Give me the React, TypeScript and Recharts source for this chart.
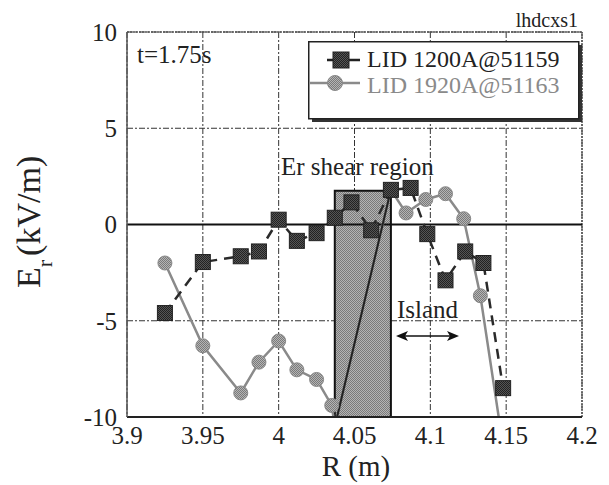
import React from "react"
import { LineChart, Line, XAxis, YAxis, CartesianGrid, ReferenceArea, ReferenceLine, Legend } from "recharts"

// LID 1200A @ 51159 (squares, dashed)
const r1200 = [3.925, 3.95, 3.975, 3.987, 4.0, 4.012, 4.025, 4.037, 4.048, 4.061, 4.074, 4.087, 4.098, 4.11, 4.123, 4.135, 4.148]
const er1200 = [-4.6, -1.95, -1.65, -1.4, 0.25, -0.85, -0.45, 0.35, 1.15, -0.3, 1.8, 1.9, -0.5, -2.9, -1.4, -2.0, -8.5]

// LID 1920A @ 51163 (circles, solid)
const r1920 = [3.925, 3.95, 3.975, 3.987, 4.0, 4.012, 4.025, 4.035, 4.037, 4.074, 4.084, 4.097, 4.11, 4.122, 4.133, 4.147]
const er1920 = [-2.0, -6.3, -8.75, -7.15, -6.05, -7.55, -8.05, -9.4, -10.5, 1.8, 0.6, 1.3, 1.6, 0.3, -3.7, -11]

// part of the 1920A trace that shows dark over the shaded box
const shearR = [4.0385, 4.074]
const shearEr = [-10, 1.8]

// Er shear region box
const shearBox = { r1: 4.037, r2: 4.074, top: 1.75, bottom: -10 }

const xTicks = [3.9, 3.95, 4, 4.05, 4.1, 4.15, 4.2]
const yTicks = [-10, -5, 0, 5, 10]

const data1200 = r1200.map((r, i) => ({ r, er: er1200[i] }))
const data1920 = r1920.map((r, i) => ({ r, er: er1920[i] }))
const shearData = shearR.map((r, i) => ({ r, er: shearEr[i] }))

const FONT = "Liberation Serif, Tinos, Times New Roman, DejaVu Serif, serif"

const SquareDot = (props: any) => {
  const { cx, cy, index } = props
  if (cx == null || cy == null || cy > 420) return <g key={`s-${index}`} />
  return <rect key={`s-${index}`} x={cx - 7.5} y={cy - 7.5} width={15} height={15} fill="url(#darkHatch)" stroke="#222" strokeWidth={1} />
}

const CircleDot = (props: any) => {
  const { cx, cy, index } = props
  if (cx == null || cy == null || cy > 420) return <g key={`c-${index}`} />
  return <circle key={`c-${index}`} cx={cx} cy={cy} r={7} fill="url(#grayHatch)" stroke="#888" strokeWidth={1} />
}

const LegendBox = () => (
  <svg width={276} height={82} style={{ display: "block", fontFamily: FONT }}>
    <rect x={4} y={4} width={270} height={77} fill="#333" />
    <rect x={0.75} y={0.75} width={270} height={77} fill="#fff" stroke="#222" strokeWidth={1.5} />
    <line x1={19} y1={19} x2={52} y2={19} stroke="#222" strokeWidth={2.5} />
    <rect x={25} y={11} width={16} height={16} fill="url(#darkHatch)" stroke="#222" />
    <text x={59} y={26} fontSize={24} fill="#222">LID 1200A@51159</text>
    <line x1={2} y1={42} x2={52} y2={42} stroke="#8a8a8a" strokeWidth={2.5} />
    <circle cx={27} cy={42} r={7.5} fill="url(#grayHatch)" stroke="#888" />
    <text x={59} y={52} fontSize={24} fill="#8a8a8a">LID 1920A@51163</text>
  </svg>
)

export default function App() {
  return (
    <div style={{ position: "absolute", left: 0, top: 0, width: 609, height: 485, background: "#fff", fontFamily: FONT }}>
      <LineChart width={609} height={485} margin={{ top: 32, right: 27, bottom: 0, left: 0 }}>
        <defs>
          <pattern id="grayHatch" width={2} height={2} patternUnits="userSpaceOnUse">
            <rect width={2} height={2} fill="#b4b4b4" />
            <rect width={1} height={1} fill="#7a7a7a" />
            <rect x={1} y={1} width={1} height={1} fill="#7a7a7a" />
          </pattern>
          <pattern id="darkHatch" width={2} height={2} patternUnits="userSpaceOnUse">
            <rect width={2} height={2} fill="#555" />
            <rect width={1} height={1} fill="#222" />
            <rect x={1} y={1} width={1} height={1} fill="#222" />
          </pattern>
        </defs>
        <CartesianGrid stroke="#333" strokeDasharray="6 2 2 2" strokeWidth={1} />
        <XAxis
          dataKey="r"
          type="number"
          domain={[3.9, 4.2]}
          ticks={xTicks}
          allowDataOverflow
          height={68}
          tickSize={0}
          tickMargin={9}
          axisLine={{ stroke: "#222", strokeWidth: 2 }}
          tick={{ fontFamily: FONT, fontSize: 25, fill: "#222" }}
        />
        <YAxis
          dataKey="er"
          type="number"
          domain={[-10, 10]}
          ticks={yTicks}
          allowDataOverflow
          width={127}
          tickSize={0}
          tickMargin={10}
          axisLine={{ stroke: "#555", strokeWidth: 1.5 }}
          tick={{ fontFamily: FONT, fontSize: 25, fill: "#222" }}
        />
        <ReferenceLine y={10} stroke="#555" strokeDasharray="2 1" strokeWidth={1.5} />
        <ReferenceLine x={4.2} stroke="#555" strokeDasharray="2 1" strokeWidth={1.5} />
        <ReferenceLine y={0} stroke="#111" strokeWidth={2} />
        <ReferenceArea
          x1={shearBox.r1}
          x2={shearBox.r2}
          y1={shearBox.bottom}
          y2={shearBox.top}
          fill="url(#grayHatch)"
          fillOpacity={1}
          stroke="#111"
          strokeWidth={2}
        />
        <Line
          data={data1920}
          dataKey="er"
          name="LID 1920A@51163"
          stroke="#8a8a8a"
          strokeWidth={2.5}
          dot={CircleDot}
          isAnimationActive={false}
        />
        <Line
          data={shearData}
          dataKey="er"
          legendType="none"
          stroke="#222"
          strokeWidth={2}
          dot={false}
          isAnimationActive={false}
        />
        <Line
          data={data1200}
          dataKey="er"
          name="LID 1200A@51159"
          stroke="#2a2a2a"
          strokeWidth={2.5}
          strokeDasharray="10 7"
          dot={SquareDot}
          isAnimationActive={false}
        />
        <Legend
          layout="vertical"
          align="center"
          verticalAlign="middle"
          content={() => <LegendBox />}
          wrapperStyle={{ left: 308, top: 41, width: 276, height: 82 }}
        />
      </LineChart>
      <svg width={609} height={485} style={{ position: "absolute", left: 0, top: 0, pointerEvents: "none", fontFamily: FONT }}>
        <text x={578} y={27} textAnchor="end" fontSize={20} fill="#222">lhdcxs1</text>
        <text x={137} y={63} fontSize={25} fill="#222">t=1.75s</text>
        <text x={281} y={175} fontSize={25} fill="#222">Er shear region</text>
        <text x={397} y={318} fontSize={25} fill="#222">Island</text>
        <line x1={400} y1={336} x2={455} y2={336} stroke="#111" strokeWidth={1.5} />
        <path d="M396,336 L408,331 L405,336 L408,341 Z" fill="#111" />
        <path d="M459,336 L447,331 L450,336 L447,341 Z" fill="#111" />
        <text x={356} y={476} textAnchor="middle" fontSize={29} fill="#222">R (m)</text>
        <text transform="translate(40,288) rotate(-90)" fontSize={34} fill="#222">
          E<tspan fontSize={22} dy={12}>r</tspan>
          <tspan dy={-12} dx={4}>(kV/m)</tspan>
        </text>
      </svg>
    </div>
  )
}
